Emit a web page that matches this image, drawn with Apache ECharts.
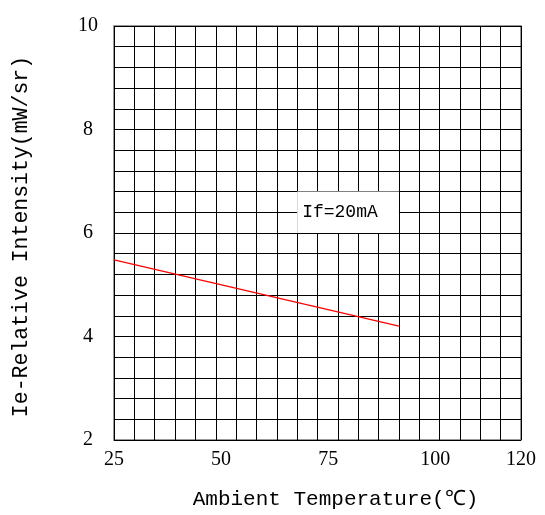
<!DOCTYPE html>
<html><head><meta charset="utf-8">
<script src="https://cdn.jsdelivr.net/npm/echarts@6/dist/echarts.min.js"></script>
<style>html,body{margin:0;padding:0;background:#fff}#c{width:545px;height:515px}</style>
</head><body><div id="c"></div>
<script>
var xTicks = [25, 50, 75, 100, 120];
var yTicks = [2, 4, 6, 8, 10];
var temperature = [25, 91.5];
var intensity = [5.48, 4.2];
var noteText = 'If=20mA';
var noteBox = [[67.75, 6.8], [91.5, 6.0]];

var chart = echarts.init(document.getElementById('c'), null, {renderer: 'canvas'});
var lineData = temperature.map(function (t, i) { return [t, intensity[i]]; });
var mono = '"Liberation Mono", monospace';
var serif = '"Liberation Serif", serif';
chart.setOption({
  animation: false,
  backgroundColor: '#fff',
  grid: {left: 114, top: 26, right: 24, bottom: 75, show: true, borderColor: '#777', borderWidth: 1.5, backgroundColor: 'transparent'},
  xAxis: [{
    type: 'value', min: xTicks[0], max: xTicks[xTicks.length - 1], interval: 25,
    axisLine: {show: false}, axisTick: {show: false}, splitLine: {show: false},
    axisLabel: {color: '#000', fontFamily: serif, fontSize: 20, margin: 10,
      formatter: function (v) { return xTicks.indexOf(v) >= 0 ? String(v) : ''; }},
    name: 'Ambient Temperature(℃)', nameLocation: 'middle', nameGap: 49,
    nameTextStyle: {color: '#000', fontFamily: mono, fontSize: 21, padding: [0, 0, 0, 36]}
  }, {
    type: 'value', min: 0, max: 20, interval: 1, position: 'bottom',
    axisLine: {show: false}, axisTick: {show: false}, axisLabel: {show: false},
    splitLine: {show: true, lineStyle: {color: '#000', width: 1}}
  }],
  yAxis: {
    type: 'value', min: yTicks[0], max: yTicks[yTicks.length - 1], interval: 0.4,
    axisLine: {show: false}, axisTick: {show: false},
    splitLine: {show: true, lineStyle: {color: '#000', width: 1}},
    axisLabel: {color: '#000', fontFamily: serif, fontSize: 20, margin: 26, align: 'center',
      formatter: function (v) {
        var r = Math.round(v);
        return (Math.abs(v - r) < 1e-6 && yTicks.indexOf(r) >= 0) ? String(r) : '';
      }},
    name: 'Ie-Relative Intensity(mW/sr)', nameLocation: 'middle', nameGap: 82,
    nameTextStyle: {color: '#000', fontFamily: mono, fontSize: 21.5, padding: [0, 7, 0, 0]}
  },
  series: [{
    type: 'line', xAxisIndex: 0, data: lineData, symbol: 'none',
    lineStyle: {color: '#ff0000', width: 1.2}, itemStyle: {color: '#ff0000'},
    markArea: {
      silent: true,
      itemStyle: {color: '#fff', borderWidth: 0},
      label: {show: true, position: 'insideLeft', distance: 5, color: '#000', fontFamily: mono, fontSize: 18},
      data: [[{name: noteText, coord: noteBox[0]}, {coord: noteBox[1]}]]
    }
  }]
});
</script></body></html>
